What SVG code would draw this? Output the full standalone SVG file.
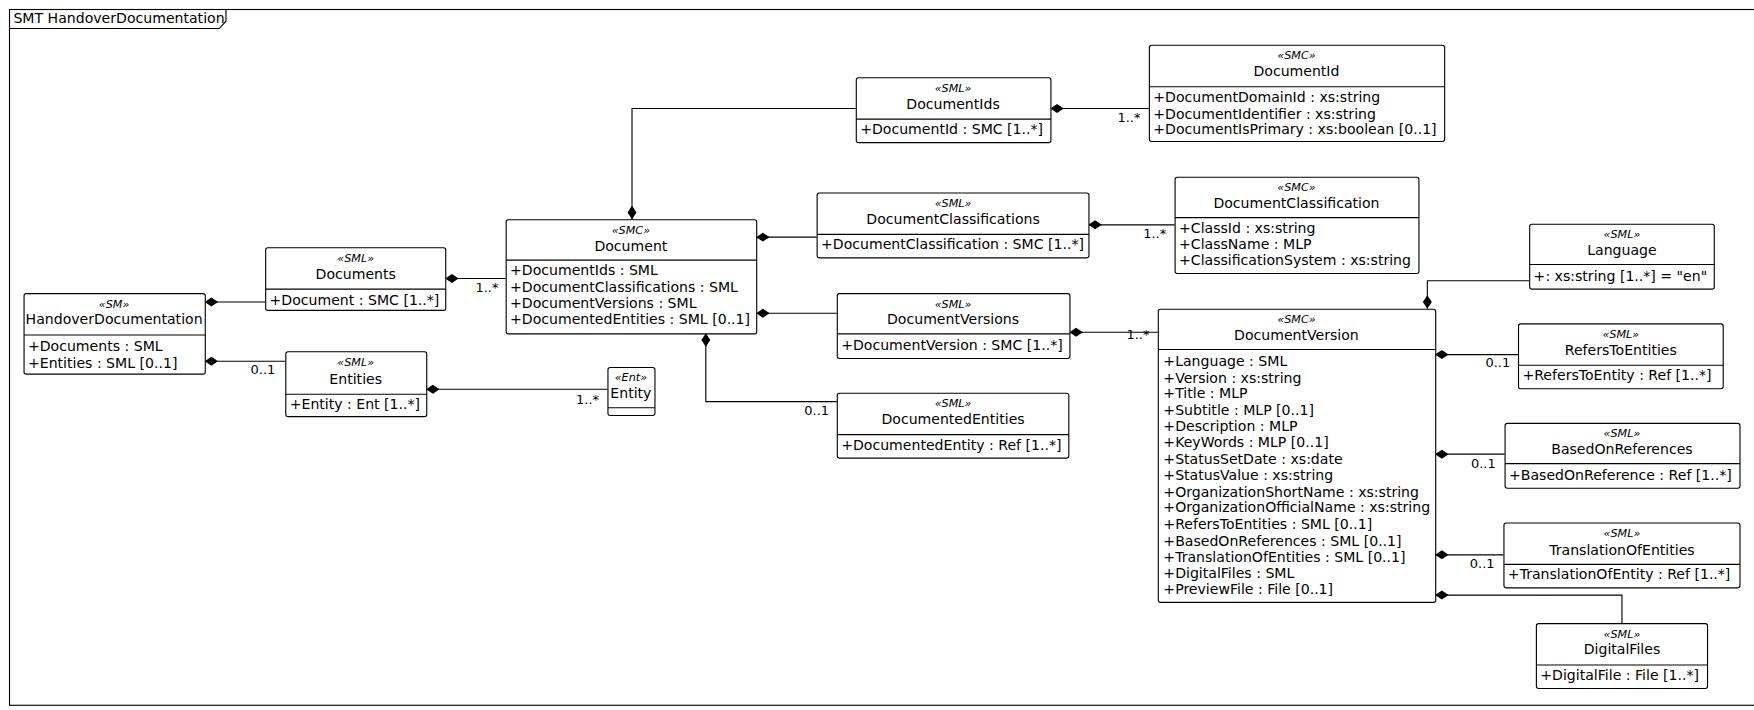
<svg xmlns="http://www.w3.org/2000/svg" width="1754" height="710" viewBox="0 0 1754 710">
<style>
text{font-family:"DejaVu Sans",sans-serif;font-size:12.6px;fill:#000}
.st{font-size:10px;font-style:italic}
.c{text-anchor:middle}
.b{fill:#fff;stroke:#000;stroke-width:1}
.l{stroke:#000;stroke-width:1;fill:none}
.m{font-size:11.6px}
</style>
<defs>
<path id="dh" d="M0,0 L6,-4 L12,0 L6,4 Z" fill="#000"/>
</defs>
<rect width="1754" height="710" fill="#fff"/>
<g transform="scale(1.1186)">
<rect x="8.5" y="8.5" width="1560" height="622" class="l"/>
<path d="M8.5,25.5 H196 L202,19 V8.5" class="l"/>
<text x="12" y="21">SMT HandoverDocumentation</text>

<g id="connectors">
<path class="l" d="M183,270 H237"/><use href="#dh" transform="translate(183,270)"/>
<path class="l" d="M183,323 H255"/><use href="#dh" transform="translate(183,323)"/><text class="m" x="224" y="334">0..1</text>
<path class="l" d="M398,249 H452"/><use href="#dh" transform="translate(398,249)"/><text class="m" x="425" y="261">1..*</text>
<path class="l" d="M381,348 H543"/><use href="#dh" transform="translate(381,348)"/><text class="m" x="515" y="361">1..*</text>
<path class="l" d="M565,196 V97 H765"/><use href="#dh" transform="translate(565,196) rotate(-90)"/>
<path class="l" d="M939,97 H1027"/><use href="#dh" transform="translate(939,97)"/><text class="m" x="999" y="109">1..*</text>
<path class="l" d="M676,212 H730"/><use href="#dh" transform="translate(676,212)"/>
<path class="l" d="M973,201 H1050"/><use href="#dh" transform="translate(973,201)"/><text class="m" x="1022" y="213">1..*</text>
<path class="l" d="M676,280 H748"/><use href="#dh" transform="translate(676,280)"/>
<path class="l" d="M631,298 V359 H748"/><use href="#dh" transform="translate(631,298) rotate(90)"/><text class="m" x="719" y="371">0..1</text>
<path class="l" d="M956,297 H1035"/><use href="#dh" transform="translate(956,297)"/><text class="m" x="1007" y="303">1..*</text>
<path class="l" d="M1276,276 V251 H1367"/><use href="#dh" transform="translate(1276,276) rotate(-90)"/>
<path class="l" d="M1283,317 H1357"/><use href="#dh" transform="translate(1283,317)"/><text class="m" x="1328" y="328">0..1</text>
<path class="l" d="M1283,406 H1345"/><use href="#dh" transform="translate(1283,406)"/><text class="m" x="1315" y="418">0..1</text>
<path class="l" d="M1283,496 H1344"/><use href="#dh" transform="translate(1283,496)"/><text class="m" x="1314" y="508">0..1</text>
<path class="l" d="M1283,532 H1450 V557"/><use href="#dh" transform="translate(1283,532)"/>
</g>

<g id="HandoverDocumentation"><rect class="b" x="21.5" y="262.5" width="162" height="72" rx="2"/><text class="st c" x="102" y="275">«SM»</text><text class="c" x="102" y="290">HandoverDocumentation</text><path class="l" d="M21.5,299.5 H183.5"/><text x="25" y="314">+Documents : SML</text><text x="25" y="329">+Entities : SML [0..1]</text></g>

<g id="Documents"><rect class="b" x="237.5" y="221.5" width="161" height="56" rx="2"/><text class="st c" x="318" y="234">«SML»</text><text class="c" x="318" y="249">Documents</text><path class="l" d="M237.5,258.5 H398.5"/><text x="241" y="273">+Document : SMC [1..*]</text></g>

<g id="Entities"><rect class="b" x="255.5" y="314.5" width="126" height="58" rx="2"/><text class="st c" x="318" y="327">«SML»</text><text class="c" x="318" y="343">Entities</text><path class="l" d="M255.5,352.5 H381.5"/><text x="259" y="366">+Entity : Ent [1..*]</text></g>

<g id="Entity"><rect class="b" x="543.5" y="328.5" width="42" height="43" rx="2"/><text class="st c" x="564" y="341">«Ent»</text><text class="c" x="564" y="356">Entity</text><path class="l" d="M543.5,364.5 H585.5"/></g>

<g id="Document"><rect class="b" x="452.5" y="196.5" width="224" height="102" rx="2"/><text class="st c" x="564" y="209">«SMC»</text><text class="c" x="564" y="224">Document</text><path class="l" d="M452.5,232.5 H676.5"/><text x="456" y="246">+DocumentIds : SML</text><text x="456" y="261">+DocumentClassifications : SML</text><text x="456" y="275">+DocumentVersions : SML</text><text x="456" y="290">+DocumentedEntities : SML [0..1]</text></g>

<g id="DocumentIds"><rect class="b" x="765.5" y="69.5" width="174" height="58" rx="2"/><text class="st c" x="852" y="82">«SML»</text><text class="c" x="852" y="97">DocumentIds</text><path class="l" d="M765.5,106.5 H939.5"/><text x="769" y="120">+DocumentId : SMC [1..*]</text></g>

<g id="DocumentId"><rect class="b" x="1027.5" y="40.5" width="264" height="86" rx="2"/><text class="st c" x="1159" y="53">«SMC»</text><text class="c" x="1159" y="68">DocumentId</text><path class="l" d="M1027.5,77.5 H1291.5"/><text x="1031" y="91">+DocumentDomainId : xs:string</text><text x="1031" y="106">+DocumentIdentifier : xs:string</text><text x="1031" y="120">+DocumentIsPrimary : xs:boolean [0..1]</text></g>

<g id="DocumentClassifications"><rect class="b" x="730.5" y="172.5" width="243" height="58" rx="2"/><text class="st c" x="852" y="185">«SML»</text><text class="c" x="852" y="200">DocumentClassifications</text><path class="l" d="M730.5,209.5 H973.5"/><text x="734" y="223">+DocumentClassification : SMC [1..*]</text></g>

<g id="DocumentClassification"><rect class="b" x="1050.5" y="158.5" width="218" height="86" rx="2"/><text class="st c" x="1159" y="171">«SMC»</text><text class="c" x="1159" y="186">DocumentClassification</text><path class="l" d="M1050.5,194.5 H1268.5"/><text x="1054" y="208">+ClassId : xs:string</text><text x="1054" y="223">+ClassName : MLP</text><text x="1054" y="237">+ClassificationSystem : xs:string</text></g>

<g id="DocumentVersions"><rect class="b" x="748.5" y="262.5" width="208" height="58" rx="2"/><text class="st c" x="852" y="275">«SML»</text><text class="c" x="852" y="290">DocumentVersions</text><path class="l" d="M748.5,298.5 H956.5"/><text x="752" y="313">+DocumentVersion : SMC [1..*]</text></g>

<g id="DocumentedEntities"><rect class="b" x="748.5" y="351.5" width="207" height="58" rx="2"/><text class="st c" x="852" y="364">«SML»</text><text class="c" x="852" y="379">DocumentedEntities</text><path class="l" d="M748.5,388.5 H955.5"/><text x="752" y="402">+DocumentedEntity : Ref [1..*]</text></g>

<g id="DocumentVersion"><rect class="b" x="1035.5" y="276.5" width="248" height="262" rx="2"/><text class="st c" x="1159" y="289">«SMC»</text><text class="c" x="1159" y="304">DocumentVersion</text><path class="l" d="M1035.5,312.5 H1283.5"/>
<text x="1040" y="327">+Language : SML</text><text x="1040" y="342">+Version : xs:string</text><text x="1040" y="356">+Title : MLP</text><text x="1040" y="371">+Subtitle : MLP [0..1]</text><text x="1040" y="385">+Description : MLP</text><text x="1040" y="400">+KeyWords : MLP [0..1]</text><text x="1040" y="415">+StatusSetDate : xs:date</text><text x="1040" y="429">+StatusValue : xs:string</text><text x="1040" y="444">+OrganizationShortName : xs:string</text><text x="1040" y="458">+OrganizationOfficialName : xs:string</text><text x="1040" y="473">+RefersToEntities : SML [0..1]</text><text x="1040" y="488">+BasedOnReferences : SML [0..1]</text><text x="1040" y="502">+TranslationOfEntities : SML [0..1]</text><text x="1040" y="517">+DigitalFiles : SML</text><text x="1040" y="531">+PreviewFile : File [0..1]</text></g>

<g id="Language"><rect class="b" x="1367.5" y="200.5" width="165" height="58" rx="2"/><text class="st c" x="1450" y="213">«SML»</text><text class="c" x="1450" y="228">Language</text><path class="l" d="M1367.5,236.5 H1532.5"/><text x="1371" y="251">+: xs:string [1..*] = "en"</text></g>

<g id="RefersToEntities"><rect class="b" x="1357.5" y="289.5" width="183" height="58" rx="2"/><text class="st c" x="1449" y="302">«SML»</text><text class="c" x="1449" y="317">RefersToEntities</text><path class="l" d="M1357.5,326.5 H1540.5"/><text x="1361" y="340">+RefersToEntity : Ref [1..*]</text></g>

<g id="BasedOnReferences"><rect class="b" x="1345.5" y="378.5" width="210" height="58" rx="2"/><text class="st c" x="1450" y="391">«SML»</text><text class="c" x="1450" y="406">BasedOnReferences</text><path class="l" d="M1345.5,414.5 H1555.5"/><text x="1349" y="429">+BasedOnReference : Ref [1..*]</text></g>

<g id="TranslationOfEntities"><rect class="b" x="1344.5" y="467.5" width="211" height="58" rx="2"/><text class="st c" x="1450" y="480">«SML»</text><text class="c" x="1450" y="496">TranslationOfEntities</text><path class="l" d="M1344.5,504.5 H1555.5"/><text x="1348" y="518">+TranslationOfEntity : Ref [1..*]</text></g>

<g id="DigitalFiles"><rect class="b" x="1373.5" y="557.5" width="153" height="58" rx="2"/><text class="st c" x="1450" y="570">«SML»</text><text class="c" x="1450" y="585">DigitalFiles</text><path class="l" d="M1373.5,594.5 H1526.5"/><text x="1377" y="608">+DigitalFile : File [1..*]</text></g>
</g>
</svg>
